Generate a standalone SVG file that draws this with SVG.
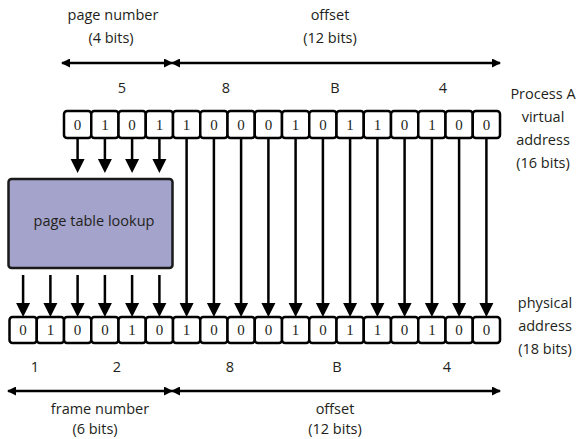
<svg xmlns="http://www.w3.org/2000/svg" width="579" height="439" viewBox="0 0 579 439">
<defs>
<style>
.cell{fill:#fff;stroke:#000;stroke-width:2.5}
.bit{font-family:"Liberation Serif",serif;font-size:15px;fill:#231f20;text-anchor:middle}
.lbl{font-family:"Open Sans","Noto Sans",sans-serif;font-size:14.5px;fill:#231f20;text-anchor:middle}
.ln{stroke:#000;stroke-width:2.5;fill:none}
.hd{fill:#000}
</style>
<marker id="ah" markerWidth="9" markerHeight="9" refX="8" refY="4.5" orient="auto-start-reverse" markerUnits="userSpaceOnUse" viewBox="0 0 9 9"><path d="M0,0 L9,4.5 L0,9 Z" fill="#000"/></marker>
</defs>
<rect width="579" height="439" fill="#fff"/>

<g id="top-labels">
<text class="lbl" x="113" y="20">page number</text>
<text class="lbl" x="111" y="43">(4 bits)</text>
<text class="lbl" x="330" y="20">offset</text>
<text class="lbl" x="330" y="43">(12 bits)</text>
<text class="lbl" x="122" y="93">5</text>
<text class="lbl" x="226" y="93">8</text>
<text class="lbl" x="335" y="93">B</text>
<text class="lbl" x="443" y="93">4</text>
</g>

<g id="virtual-label">
<text class="lbl" x="543" y="99">Process A</text>
<text class="lbl" x="543" y="122">virtual</text>
<text class="lbl" x="543" y="145">address</text>
<text class="lbl" x="543" y="168">(16 bits)</text>
</g>

<g id="physical-label">
<text class="lbl" x="545" y="308">physical</text>
<text class="lbl" x="545" y="331">address</text>
<text class="lbl" x="545" y="354">(18 bits)</text>
</g>

<g id="bottom-labels">
<text class="lbl" x="35" y="372">1</text>
<text class="lbl" x="117" y="372">2</text>
<text class="lbl" x="230" y="372">8</text>
<text class="lbl" x="337" y="372">B</text>
<text class="lbl" x="447" y="372">4</text>
<text class="lbl" x="100" y="414">frame number</text>
<text class="lbl" x="95" y="434">(6 bits)</text>
<text class="lbl" x="335" y="414">offset</text>
<text class="lbl" x="335" y="434">(12 bits)</text>
</g>

<g id="virtual-address">
<rect class="cell" x="64" y="111" width="27.25" height="27" rx="3"/>
<rect class="cell" x="91.25" y="111" width="27.25" height="27" rx="3"/>
<rect class="cell" x="118.5" y="111" width="27.25" height="27" rx="3"/>
<rect class="cell" x="145.75" y="111" width="27.25" height="27" rx="3"/>
<rect class="cell" x="173" y="111" width="27.25" height="27" rx="3"/>
<rect class="cell" x="200.25" y="111" width="27.25" height="27" rx="3"/>
<rect class="cell" x="227.5" y="111" width="27.25" height="27" rx="3"/>
<rect class="cell" x="254.75" y="111" width="27.25" height="27" rx="3"/>
<rect class="cell" x="282" y="111" width="27.25" height="27" rx="3"/>
<rect class="cell" x="309.25" y="111" width="27.25" height="27" rx="3"/>
<rect class="cell" x="336.5" y="111" width="27.25" height="27" rx="3"/>
<rect class="cell" x="363.75" y="111" width="27.25" height="27" rx="3"/>
<rect class="cell" x="391" y="111" width="27.25" height="27" rx="3"/>
<rect class="cell" x="418.25" y="111" width="27.25" height="27" rx="3"/>
<rect class="cell" x="445.5" y="111" width="27.25" height="27" rx="3"/>
<rect class="cell" x="472.75" y="111" width="27.25" height="27" rx="3"/>
<text class="bit" x="77.6" y="129.5">0</text>
<text class="bit" x="104.9" y="129.5">1</text>
<text class="bit" x="132.1" y="129.5">0</text>
<text class="bit" x="159.4" y="129.5">1</text>
<text class="bit" x="186.6" y="129.5">1</text>
<text class="bit" x="213.9" y="129.5">0</text>
<text class="bit" x="241.1" y="129.5">0</text>
<text class="bit" x="268.4" y="129.5">0</text>
<text class="bit" x="295.6" y="129.5">1</text>
<text class="bit" x="322.9" y="129.5">0</text>
<text class="bit" x="350.1" y="129.5">1</text>
<text class="bit" x="377.4" y="129.5">1</text>
<text class="bit" x="404.6" y="129.5">0</text>
<text class="bit" x="431.9" y="129.5">1</text>
<text class="bit" x="459.1" y="129.5">0</text>
<text class="bit" x="486.4" y="129.5">0</text>
</g>

<g id="physical-address">
<rect class="cell" x="9.5" y="317" width="27.25" height="26" rx="3"/>
<rect class="cell" x="36.75" y="317" width="27.25" height="26" rx="3"/>
<rect class="cell" x="64" y="317" width="27.25" height="26" rx="3"/>
<rect class="cell" x="91.25" y="317" width="27.25" height="26" rx="3"/>
<rect class="cell" x="118.5" y="317" width="27.25" height="26" rx="3"/>
<rect class="cell" x="145.75" y="317" width="27.25" height="26" rx="3"/>
<rect class="cell" x="173" y="317" width="27.25" height="26" rx="3"/>
<rect class="cell" x="200.25" y="317" width="27.25" height="26" rx="3"/>
<rect class="cell" x="227.5" y="317" width="27.25" height="26" rx="3"/>
<rect class="cell" x="254.75" y="317" width="27.25" height="26" rx="3"/>
<rect class="cell" x="282" y="317" width="27.25" height="26" rx="3"/>
<rect class="cell" x="309.25" y="317" width="27.25" height="26" rx="3"/>
<rect class="cell" x="336.5" y="317" width="27.25" height="26" rx="3"/>
<rect class="cell" x="363.75" y="317" width="27.25" height="26" rx="3"/>
<rect class="cell" x="391" y="317" width="27.25" height="26" rx="3"/>
<rect class="cell" x="418.25" y="317" width="27.25" height="26" rx="3"/>
<rect class="cell" x="445.5" y="317" width="27.25" height="26" rx="3"/>
<rect class="cell" x="472.75" y="317" width="27.25" height="26" rx="3"/>
<text class="bit" x="23.1" y="335">0</text>
<text class="bit" x="50.4" y="335">1</text>
<text class="bit" x="77.6" y="335">0</text>
<text class="bit" x="104.9" y="335">0</text>
<text class="bit" x="132.1" y="335">1</text>
<text class="bit" x="159.4" y="335">0</text>
<text class="bit" x="186.6" y="335">1</text>
<text class="bit" x="213.9" y="335">0</text>
<text class="bit" x="241.1" y="335">0</text>
<text class="bit" x="268.4" y="335">0</text>
<text class="bit" x="295.6" y="335">1</text>
<text class="bit" x="322.9" y="335">0</text>
<text class="bit" x="350.1" y="335">1</text>
<text class="bit" x="377.4" y="335">1</text>
<text class="bit" x="404.6" y="335">0</text>
<text class="bit" x="431.9" y="335">1</text>
<text class="bit" x="459.1" y="335">0</text>
<text class="bit" x="486.4" y="335">0</text>
</g>

<g id="page-table-lookup">
<rect x="8.5" y="179" width="164" height="89" rx="3" fill="#a3a3cb" stroke="#1a1a1a" stroke-width="2.5"/>
<text class="lbl" x="94" y="226">page table lookup</text>
</g>

<g id="connectors">
<line class="ln" x1="62" y1="63" x2="172" y2="63" marker-start="url(#ah)" marker-end="url(#ah)"/>
<line class="ln" x1="172" y1="63" x2="500" y2="63" marker-start="url(#ah)" marker-end="url(#ah)"/>
<line class="ln" x1="8" y1="391" x2="172" y2="391" marker-start="url(#ah)" marker-end="url(#ah)"/>
<line class="ln" x1="172" y1="391" x2="500" y2="391" marker-start="url(#ah)" marker-end="url(#ah)"/>

<g class="ln">
<path d="M77.6,138V160 M104.9,138V160 M132.1,138V160 M159.4,138V160"/>
<path d="M23.1,275V305 M50.4,275V305 M77.6,275V305 M104.9,275V305 M132.1,275V305 M159.4,275V305"/>
<path d="M186.6,138V305 M213.9,138V305 M241.1,138V305 M268.4,138V305 M295.6,138V305 M322.9,138V305 M350.1,138V305 M377.4,138V305 M404.6,138V305 M431.9,138V305 M459.1,138V305 M486.4,138V305"/>
</g>
<g class="hd">
<path d="M70.6,159h14l-7,14z M97.9,159h14l-7,14z M125.1,159h14l-7,14z M152.4,159h14l-7,14z"/>
<path d="M16.1,303h14l-7,14z M43.4,303h14l-7,14z M70.6,303h14l-7,14z M97.9,303h14l-7,14z M125.1,303h14l-7,14z M152.4,303h14l-7,14z"/>
<path d="M179.6,303h14l-7,14z M206.9,303h14l-7,14z M234.1,303h14l-7,14z M261.4,303h14l-7,14z M288.6,303h14l-7,14z M315.9,303h14l-7,14z M343.1,303h14l-7,14z M370.4,303h14l-7,14z M397.6,303h14l-7,14z M424.9,303h14l-7,14z M452.1,303h14l-7,14z M479.4,303h14l-7,14z"/>
</g>
</g>
</svg>
